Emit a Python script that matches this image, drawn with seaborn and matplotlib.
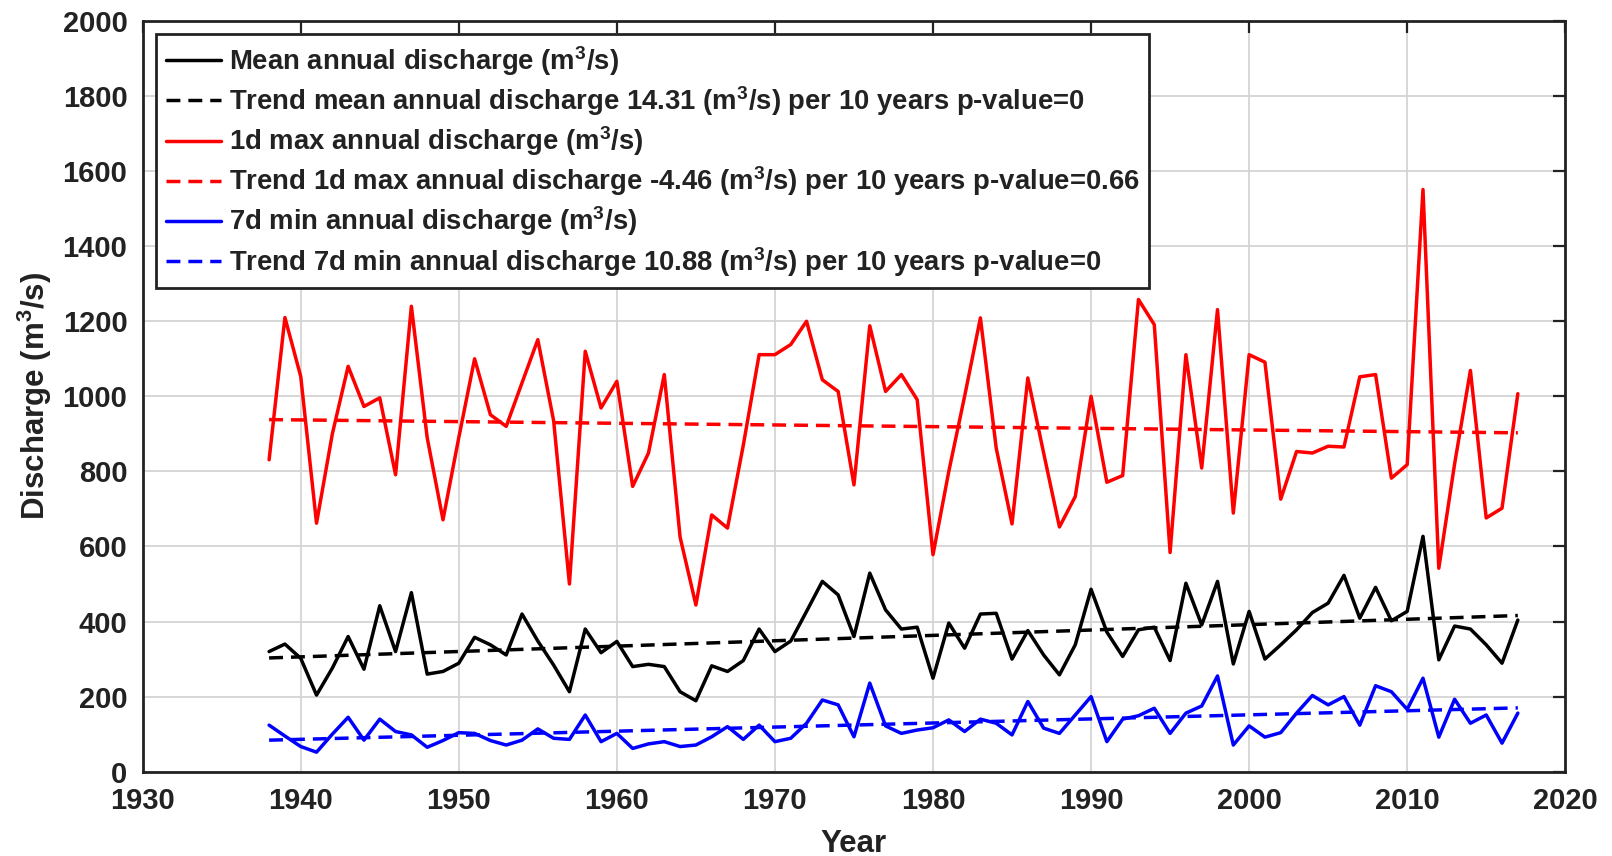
import numpy as np
import pandas as pd
import matplotlib
matplotlib.use("Agg")
import matplotlib.pyplot as plt
import seaborn as sns

# Annual discharge series, 1938-2017 (m3/s)
years = list(range(1938, 2018))

mean_annual = [
    320, 340, 302, 204, 276, 360, 273, 442, 320, 477,
    260, 267, 289, 358, 338, 311, 420, 348, 284, 213,
    380, 317, 347, 280, 286, 280, 213, 189, 282, 267,
    296, 380, 320, 348, 427, 507, 471, 360, 529, 431,
    380, 385, 249, 396, 329, 420, 422, 300, 376, 311,
    258, 338, 486, 372, 307, 378, 385, 296, 502, 391,
    507, 287, 427, 300, 338, 378, 424, 449, 523, 409,
    491, 402, 427, 627, 298, 388, 380, 338, 289, 404,
]

max_1d = [
    831, 1210, 1053, 662, 900, 1080, 973, 996, 791, 1240,
    890, 671, 890, 1100, 951, 920, 1036, 1151, 935, 500,
    1120, 969, 1040, 760, 849, 1058, 625, 444, 684, 649,
    870, 1111, 1111, 1138, 1200, 1044, 1013, 764, 1188, 1013,
    1058, 991, 578, 800, 1000, 1209, 862, 660, 1049, 849,
    652, 733, 1000, 771, 789, 1258, 1191, 584, 1111, 809,
    1231, 689, 1111, 1091, 726, 853, 849, 867, 865, 1052,
    1058, 782, 818, 1551, 542, 820, 1069, 676, 702, 1007,
]

min_7d = [
    124, 95, 67, 52, 100, 145, 84, 140, 107, 98,
    65, 83, 104, 102, 83, 71, 84, 114, 89, 86,
    151, 80, 102, 62, 74, 80, 67, 71, 93, 120,
    86, 124, 80, 89, 129, 191, 178, 93, 236, 122,
    102, 111, 117, 138, 107, 140, 129, 98, 187, 116,
    102, 151, 200, 80, 140, 149, 169, 102, 156, 175,
    255, 71, 122, 92, 104, 156, 203, 178, 200, 124,
    229, 213, 166, 249, 92, 193, 129, 151, 76, 156,
]

# Linear trends: slope per 10 years (as reported) and fitted value in 1938
trend_slopes = [14.31, -4.46, 10.88]
trend_start = [303, 938, 84]
trend_pvalues = ["0", "0.66", "0"]

series_names = ["Mean annual discharge", "1d max annual discharge", "7d min annual discharge"]
trend_names = ["Trend mean annual discharge", "Trend 1d max annual discharge",
               "Trend 7d min annual discharge"]
colors = ["black", "#ff0000", "#0000ff"]

sns.set_style("white")
plt.rcParams["font.family"] = ["Liberation Sans", "DejaVu Sans"]
plt.rcParams["font.weight"] = "bold"
plt.rcParams["mathtext.fontset"] = "custom"
plt.rcParams["mathtext.rm"] = "Liberation Sans:bold"
plt.rcParams["mathtext.it"] = "Liberation Sans:bold"
plt.rcParams["mathtext.bf"] = "Liberation Sans:bold"

fig = plt.figure(figsize=(16.12, 8.56), dpi=100)
ax = fig.add_axes([0.0885, 0.0985, 0.8825, 0.877])

unit = r"(m$^{3}$/s)"
yrs = np.array(years)
lw = 2.5
dash = (0, (4.0, 2.3))

all_series = [mean_annual, max_1d, min_7d]
for i in range(3):
    df = pd.DataFrame({"Year": years, "Q": all_series[i]})
    sns.lineplot(data=df, x="Year", y="Q", ax=ax, color=colors[i], lw=lw,
                 errorbar=None, label=f"{series_names[i]} {unit}")
    trend = trend_start[i] + trend_slopes[i] / 10.0 * (yrs - yrs[0])
    tdf = pd.DataFrame({"Year": years, "Q": trend})
    slope_txt = f"{trend_slopes[i]:.2f}"
    sns.lineplot(data=tdf, x="Year", y="Q", ax=ax, color=colors[i], lw=lw,
                 linestyle=dash, errorbar=None,
                 label=f"{trend_names[i]} {slope_txt} {unit} per 10 years "
                       f"p-value={trend_pvalues[i]}")

ax.set_xlim(1930, 2020)
ax.set_ylim(0, 2000)
ax.set_xticks(np.arange(1930, 2021, 10))
ax.set_yticks(np.arange(0, 2001, 200))
ax.grid(True, color="#d4d4d4", lw=1.3)
ax.set_axisbelow(True)

for s in ax.spines.values():
    s.set_color("#222222")
    s.set_linewidth(2.0)
ax.tick_params(direction="in", length=8.5, width=1.6, top=True, right=True,
               labelsize=21, pad=11, colors="#222222", labelcolor="#222222")
for t in ax.get_xticklabels() + ax.get_yticklabels():
    t.set_fontweight("bold")

ax.set_xlabel("Year", fontsize=22.5, fontweight="bold", labelpad=10, color="#222222")
ax.set_ylabel(f"Discharge {unit}", fontsize=22.5, fontweight="bold", labelpad=6,
              color="#222222")

leg = ax.legend(loc="upper left", bbox_to_anchor=(0.0095, 0.982), fontsize=19.8,
                frameon=True, fancybox=False, shadow=False, framealpha=1,
                handlelength=2.0, handletextpad=0.28, labelspacing=0.23,
                borderpad=0.35, borderaxespad=0)
leg.get_frame().set_edgecolor("#222222")
leg.get_frame().set_linewidth(2.0)
for t in leg.get_texts():
    t.set_fontweight("bold")
    t.set_color("#222222")

fig.savefig("out.png", dpi=100, facecolor="white")
